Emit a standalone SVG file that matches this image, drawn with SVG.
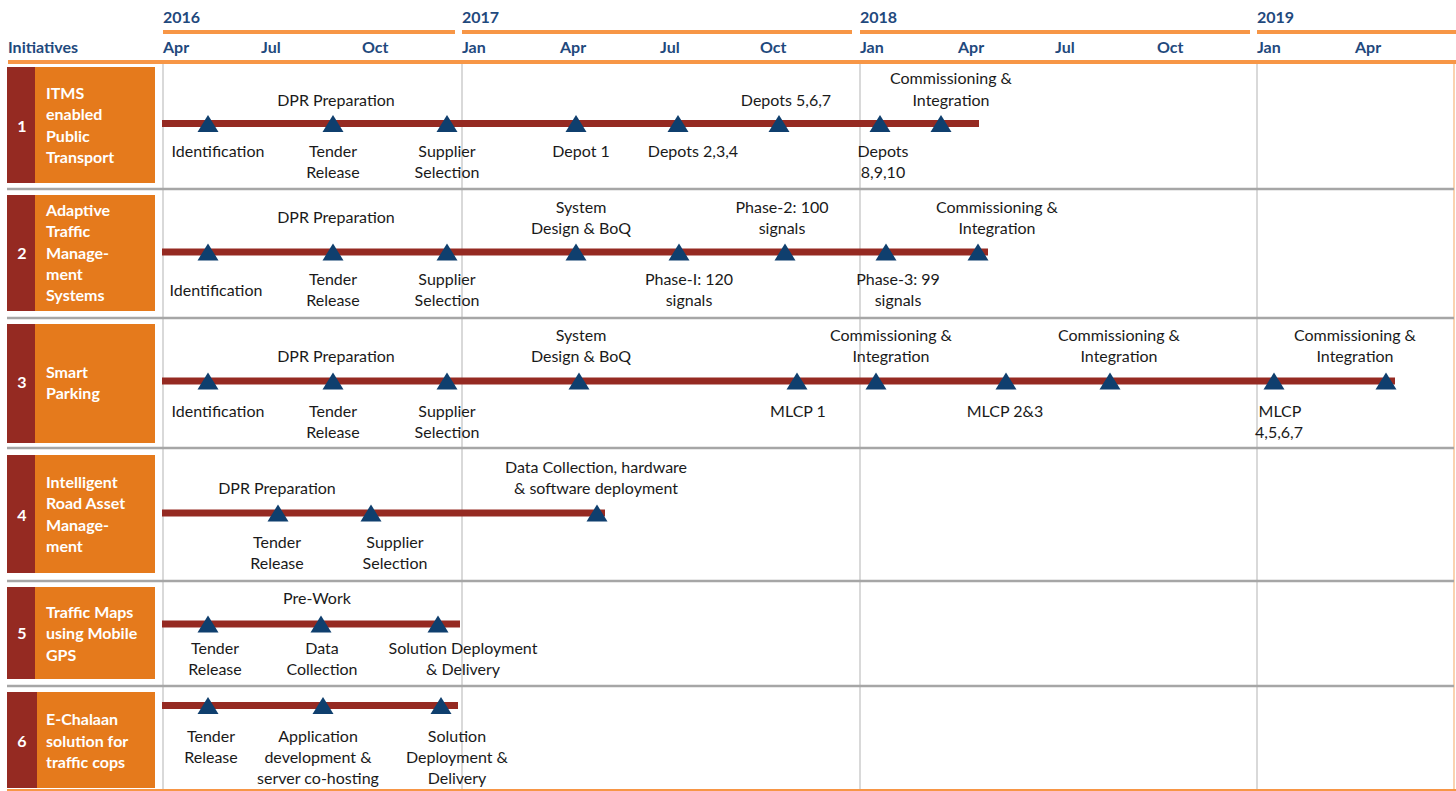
<svg xmlns="http://www.w3.org/2000/svg" xmlns:xlink="http://www.w3.org/1999/xlink" width="1456" height="791" viewBox="0 0 1456 791">
<style>
.hdr{font-family:Lato,"Open Sans","Liberation Sans",sans-serif;font-weight:bold;fill:#1F497D;font-size:16px}
.lbl{font-family:Lato,"Open Sans","Liberation Sans",sans-serif;fill:#1a1a1a;font-size:16px;text-anchor:middle}
.box{font-family:Lato,"Open Sans","Liberation Sans",sans-serif;font-weight:bold;fill:#ffffff;font-size:16px}
.num{font-family:Lato,"Open Sans","Liberation Sans",sans-serif;font-weight:bold;fill:#ffffff;font-size:16px;text-anchor:middle}
.oline{stroke:#F79646;stroke-width:4}
.vline{stroke:#D9D9D9;stroke-width:2}
.sep{stroke:#A6A6A6;stroke-width:2.5}
.bar{stroke:#952A22;stroke-width:7}
.dark{fill:#952A22}
.org{fill:#E57A1C}
</style>
<defs>
<path id="tri" d="M-10.5,8.5 L10.5,8.5 L0,-8.5 Z" fill="#0F3F6E"/>
</defs>
<rect width="1456" height="791" fill="#ffffff"/>
<g id="header">
<text class="hdr" x="163" y="23">2016</text>
<text class="hdr" x="462" y="23">2017</text>
<text class="hdr" x="860" y="23">2018</text>
<text class="hdr" x="1257" y="23">2019</text>
<line class="oline" x1="163" y1="32" x2="455" y2="32"/>
<line class="oline" x1="462" y1="32" x2="852" y2="32"/>
<line class="oline" x1="860" y1="32" x2="1250" y2="32"/>
<line class="oline" x1="1257" y1="32" x2="1456" y2="32"/>
<text class="hdr" x="8" y="53">Initiatives</text>
<text class="hdr" x="163" y="53">Apr</text>
<text class="hdr" x="261" y="53">Jul</text>
<text class="hdr" x="362" y="53">Oct</text>
<text class="hdr" x="462" y="53">Jan</text>
<text class="hdr" x="560" y="53">Apr</text>
<text class="hdr" x="660" y="53">Jul</text>
<text class="hdr" x="760" y="53">Oct</text>
<text class="hdr" x="860" y="53">Jan</text>
<text class="hdr" x="958" y="53">Apr</text>
<text class="hdr" x="1055" y="53">Jul</text>
<text class="hdr" x="1157" y="53">Oct</text>
<text class="hdr" x="1257" y="53">Jan</text>
<text class="hdr" x="1355" y="53">Apr</text>
<line class="oline" x1="8" y1="62" x2="1456" y2="62"/>
</g>
<g id="grid">
<line class="vline" x1="163" y1="64" x2="163" y2="791"/>
<line class="vline" x1="462" y1="64" x2="462" y2="791"/>
<line class="vline" x1="860" y1="64" x2="860" y2="791"/>
<line class="vline" x1="1257" y1="64" x2="1257" y2="791"/>
<line x1="1454" y1="64" x2="1454" y2="791" stroke="#FAD3B0" stroke-width="2"/>
<line class="sep" x1="7" y1="189" x2="1454" y2="189"/>
<line class="sep" x1="7" y1="318" x2="1454" y2="318"/>
<line class="sep" x1="7" y1="448" x2="1454" y2="448"/>
<line class="sep" x1="7" y1="581" x2="1454" y2="581"/>
<line class="sep" x1="7" y1="686" x2="1454" y2="686"/>
<line x1="7" y1="790" x2="1456" y2="790" stroke="#F79646" stroke-width="2"/>
</g>
<g id="row1">
<rect class="dark" x="7" y="67" width="28" height="116"/>
<rect class="org" x="35" y="67" width="120" height="116"/>
<text class="num" x="22" y="132">1</text>
<text class="box" x="46" y="99">ITMS</text>
<text class="box" x="46" y="120">enabled</text>
<text class="box" x="46" y="142">Public</text>
<text class="box" x="46" y="163">Transport</text>
</g>
<g id="row2">
<rect class="dark" x="7" y="195" width="28" height="116"/>
<rect class="org" x="35" y="195" width="120" height="116"/>
<text class="num" x="22" y="259">2</text>
<text class="box" x="46" y="216">Adaptive</text>
<text class="box" x="46" y="237">Traffic</text>
<text class="box" x="46" y="259">Manage-</text>
<text class="box" x="46" y="280">ment</text>
<text class="box" x="46" y="301">Systems</text>
</g>
<g id="row3">
<rect class="dark" x="7" y="324" width="28" height="119"/>
<rect class="org" x="35" y="324" width="120" height="119"/>
<text class="num" x="22" y="388">3</text>
<text class="box" x="46" y="378">Smart</text>
<text class="box" x="46" y="399">Parking</text>
</g>
<g id="row4">
<rect class="dark" x="7" y="455" width="28" height="118"/>
<rect class="org" x="35" y="455" width="120" height="118"/>
<text class="num" x="22" y="521">4</text>
<text class="box" x="46" y="488">Intelligent</text>
<text class="box" x="46" y="509">Road Asset</text>
<text class="box" x="46" y="531">Manage-</text>
<text class="box" x="46" y="552">ment</text>
</g>
<g id="row5">
<rect class="dark" x="7" y="587" width="28" height="92"/>
<rect class="org" x="35" y="587" width="120" height="92"/>
<text class="num" x="22" y="639">5</text>
<text class="box" x="46" y="618">Traffic Maps</text>
<text class="box" x="46" y="639">using Mobile</text>
<text class="box" x="46" y="661">GPS</text>
</g>
<g id="row6">
<rect class="dark" x="7" y="692" width="30" height="96"/>
<rect class="org" x="37" y="692" width="118" height="96"/>
<text class="num" x="22" y="747">6</text>
<text class="box" x="46" y="725">E-Chalaan</text>
<text class="box" x="46" y="747">solution for</text>
<text class="box" x="46" y="768">traffic cops</text>
</g>
<g id="connectors">
<line class="bar" x1="162" y1="123.5" x2="979" y2="123.5"/>
<line class="bar" x1="162" y1="252" x2="988" y2="252"/>
<line class="bar" x1="162" y1="381" x2="1395" y2="381"/>
<line class="bar" x1="162" y1="513" x2="605" y2="513"/>
<line class="bar" x1="162" y1="624" x2="460" y2="624"/>
<line class="bar" x1="162" y1="705.5" x2="458" y2="705.5"/>
</g>
<g id="milestones1">
<use href="#tri" x="208" y="123.5"/><use href="#tri" x="333" y="123.5"/><use href="#tri" x="447" y="123.5"/><use href="#tri" x="576" y="123.5"/><use href="#tri" x="678" y="123.5"/><use href="#tri" x="779" y="123.5"/><use href="#tri" x="880" y="123.5"/><use href="#tri" x="941" y="123.5"/>
<text class="lbl" x="336" y="106">DPR Preparation</text>
<text class="lbl" x="786" y="106">Depots 5,6,7</text>
<text class="lbl" x="951" y="84">Commissioning &amp;</text>
<text class="lbl" x="951" y="106">Integration</text>
<text class="lbl" x="218" y="157">Identification</text>
<text class="lbl" x="333" y="157">Tender</text><text class="lbl" x="333" y="178">Release</text>
<text class="lbl" x="447" y="157">Supplier</text><text class="lbl" x="447" y="178">Selection</text>
<text class="lbl" x="581" y="157">Depot 1</text>
<text class="lbl" x="693" y="157">Depots 2,3,4</text>
<text class="lbl" x="883" y="157">Depots</text><text class="lbl" x="883" y="178">8,9,10</text>
</g>
<g id="milestones2">
<use href="#tri" x="208" y="252"/><use href="#tri" x="333" y="252"/><use href="#tri" x="447" y="252"/><use href="#tri" x="576" y="252"/><use href="#tri" x="679" y="252"/><use href="#tri" x="785" y="252"/><use href="#tri" x="886" y="252"/><use href="#tri" x="978" y="252"/>
<text class="lbl" x="336" y="223">DPR Preparation</text>
<text class="lbl" x="581" y="213">System</text><text class="lbl" x="581" y="234">Design &amp; BoQ</text>
<text class="lbl" x="782" y="213">Phase-2: 100</text><text class="lbl" x="782" y="234">signals</text>
<text class="lbl" x="997" y="213">Commissioning &amp;</text><text class="lbl" x="997" y="234">Integration</text>
<text class="lbl" x="216" y="296">Identification</text>
<text class="lbl" x="333" y="285">Tender</text><text class="lbl" x="333" y="306">Release</text>
<text class="lbl" x="447" y="285">Supplier</text><text class="lbl" x="447" y="306">Selection</text>
<text class="lbl" x="689" y="285">Phase-I: 120</text><text class="lbl" x="689" y="306">signals</text>
<text class="lbl" x="898" y="285">Phase-3: 99</text><text class="lbl" x="898" y="306">signals</text>
</g>
<g id="milestones3">
<use href="#tri" x="208" y="381"/><use href="#tri" x="333" y="381"/><use href="#tri" x="447" y="381"/><use href="#tri" x="579" y="381"/><use href="#tri" x="797" y="381"/><use href="#tri" x="876" y="381"/><use href="#tri" x="1006" y="381"/><use href="#tri" x="1110" y="381"/><use href="#tri" x="1274" y="381"/><use href="#tri" x="1386" y="381"/>
<text class="lbl" x="336" y="362">DPR Preparation</text>
<text class="lbl" x="581" y="341">System</text><text class="lbl" x="581" y="362">Design &amp; BoQ</text>
<text class="lbl" x="891" y="341">Commissioning &amp;</text><text class="lbl" x="891" y="362">Integration</text>
<text class="lbl" x="1119" y="341">Commissioning &amp;</text><text class="lbl" x="1119" y="362">Integration</text>
<text class="lbl" x="1355" y="341">Commissioning &amp;</text><text class="lbl" x="1355" y="362">Integration</text>
<text class="lbl" x="218" y="417">Identification</text>
<text class="lbl" x="333" y="417">Tender</text><text class="lbl" x="333" y="438">Release</text>
<text class="lbl" x="447" y="417">Supplier</text><text class="lbl" x="447" y="438">Selection</text>
<text class="lbl" x="798" y="417">MLCP 1</text>
<text class="lbl" x="1005" y="417">MLCP 2&amp;3</text>
<text class="lbl" x="1280" y="417">MLCP</text><text class="lbl" x="1279" y="438">4,5,6,7</text>
</g>
<g id="milestones4">
<use href="#tri" x="278" y="513"/><use href="#tri" x="371" y="513"/><use href="#tri" x="597" y="513"/>
<text class="lbl" x="277" y="494">DPR Preparation</text>
<text class="lbl" x="596" y="473">Data Collection, hardware</text><text class="lbl" x="596" y="494">&amp; software deployment</text>
<text class="lbl" x="277" y="548">Tender</text><text class="lbl" x="277" y="569">Release</text>
<text class="lbl" x="395" y="548">Supplier</text><text class="lbl" x="395" y="569">Selection</text>
</g>
<g id="milestones5">
<use href="#tri" x="208" y="624"/><use href="#tri" x="321" y="624"/><use href="#tri" x="438" y="624"/>
<text class="lbl" x="317" y="604">Pre-Work</text>
<text class="lbl" x="215" y="654">Tender</text><text class="lbl" x="215" y="675">Release</text>
<text class="lbl" x="322" y="654">Data</text><text class="lbl" x="322" y="675">Collection</text>
<text class="lbl" x="463" y="654">Solution Deployment</text><text class="lbl" x="463" y="675">&amp; Delivery</text>
</g>
<g id="milestones6">
<use href="#tri" x="208" y="705.5"/><use href="#tri" x="323" y="705.5"/><use href="#tri" x="441" y="705.5"/>
<text class="lbl" x="211" y="742">Tender</text><text class="lbl" x="211" y="763">Release</text>
<text class="lbl" x="318" y="742">Application</text><text class="lbl" x="318" y="763">development &amp;</text><text class="lbl" x="318" y="784">server co-hosting</text>
<text class="lbl" x="457" y="742">Solution</text><text class="lbl" x="457" y="763">Deployment &amp;</text><text class="lbl" x="457" y="784">Delivery</text>
</g>
</svg>
